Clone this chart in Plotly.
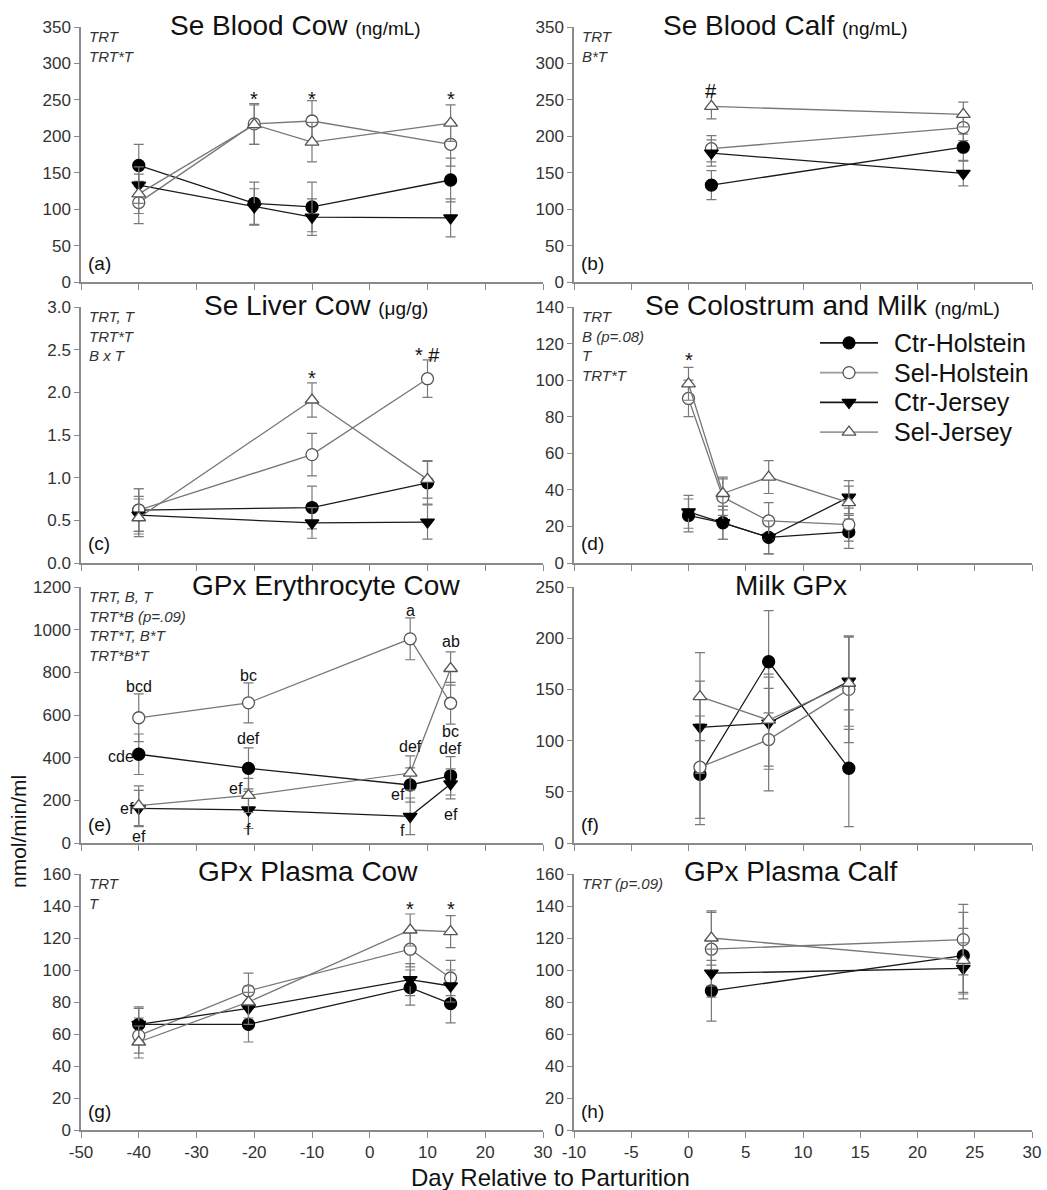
import plotly.graph_objects as go

W, H = 1047, 1190


def px(x):
    return x / W


def py(y):
    return 1 - y / H


SERIES = ["Ctr-Holstein", "Sel-Holstein", "Ctr-Jersey", "Sel-Jersey"]

# ---------------- data ----------------
# (a) Se Blood Cow (ng/mL)
a_day = [-40, -20, -10, 14]
a_ctr_hol = [160, 108, 103, 140]
a_sel_hol = [109, 217, 221, 189]
a_ctr_jer = [133, 103, 89, 88]
a_sel_jer = [121, 216, 192, 218]
a_ctr_hol_se = [29, 29, 34, 30]
a_sel_hol_se = [29, 28, 28, 30]
a_ctr_jer_se = [25, 25, 25, 26]
a_sel_jer_se = [27, 27, 27, 25]

# (b) Se Blood Calf (ng/mL)
b_day = [2, 24]
b_ctr_hol = [133, 185]
b_sel_hol = [183, 212]
b_ctr_jer = [177, 149]
b_sel_jer = [241, 230]
b_ctr_hol_se = [20, 18]
b_sel_hol_se = [18, 18]
b_ctr_jer_se = [18, 17]
b_sel_jer_se = [17, 17]

# (c) Se Liver Cow (ug/g)
c_day = [-40, -10, 10]
c_ctr_hol = [0.62, 0.65, 0.94]
c_sel_hol = [0.62, 1.27, 2.16]
c_ctr_jer = [0.56, 0.47, 0.48]
c_sel_jer = [0.53, 1.91, 0.98]
c_ctr_hol_se = [0.25, 0.25, 0.25]
c_sel_hol_se = [0.25, 0.25, 0.22]
c_ctr_jer_se = [0.22, 0.18, 0.20]
c_sel_jer_se = [0.22, 0.20, 0.22]

# (d) Se Colostrum and Milk (ng/mL)
d_day = [0, 3, 7, 14]
d_ctr_hol = [26, 22, 14, 17]
d_sel_hol = [90, 36, 23, 21]
d_ctr_jer = [28, 22, 14, 36]
d_sel_jer = [98, 38, 47, 33]
d_ctr_hol_se = [9, 9, 9, 9]
d_sel_hol_se = [10, 10, 10, 9]
d_ctr_jer_se = [9, 9, 9, 9]
d_sel_jer_se = [9, 9, 9, 9]

# (e) GPx Erythrocyte Cow (nmol/min/ml)
e_day = [-40, -21, 7, 14]
e_ctr_hol = [416, 350, 272, 315]
e_sel_hol = [587, 657, 957, 655]
e_ctr_jer = [162, 155, 125, 277]
e_sel_jer = [175, 223, 328, 818]
e_ctr_hol_se = [95, 96, 80, 90]
e_sel_hol_se = [112, 94, 98, 98]
e_ctr_jer_se = [85, 87, 86, 70]
e_sel_jer_se = [93, 80, 80, 78]

# (f) Milk GPx
f_day = [1, 7, 14]
f_ctr_hol = [67, 177, 73]
f_sel_hol = [74, 101, 150]
f_ctr_jer = [113, 117, 158]
f_sel_jer = [143, 120, 156]
f_ctr_hol_se = [49, 50, 57]
f_sel_hol_se = [50, 50, 52]
f_ctr_jer_se = [45, 45, 44]
f_sel_jer_se = [43, 45, 45]

# (g) GPx Plasma Cow
g_day = [-40, -21, 7, 14]
g_ctr_hol = [66, 66, 89, 79]
g_sel_hol = [59, 87, 113, 95]
g_ctr_jer = [66, 76, 94, 90]
g_sel_jer = [55, 80, 125, 124]
g_ctr_hol_se = [11, 11, 11, 12]
g_sel_hol_se = [11, 11, 11, 11]
g_ctr_jer_se = [10, 10, 10, 10]
g_sel_jer_se = [10, 10, 10, 10]

# (h) GPx Plasma Calf
h_day = [2, 24]
h_ctr_hol = [87, 109]
h_sel_hol = [113, 119]
h_ctr_jer = [98, 101]
h_sel_jer = [120, 106]
h_ctr_hol_se = [19, 27]
h_sel_hol_se = [23, 22]
h_ctr_jer_se = [15, 16]
h_sel_jer_se = [17, 20]

# tick sets
left_day_ticks = [-50, -40, -30, -20, -10, 0, 10, 20, 30]
right_day_ticks = [-10, -5, 0, 5, 10, 15, 20, 25, 30]

# significance marks: (text, day, value)
a_marks = [("*", -20, 256), ("*", -10, 256), ("*", 14, 256)]
b_marks = [("#", 2, 268)]
c_marks = [("*", -10, 2.22), ("* #", 10, 2.49)]
d_marks = [("*", 0, 113)]
g_marks = [("*", 7, 140.5), ("*", 14, 140.5)]
# letters in (e): (text, day, value, side)
e_letters = [
    ("bcd", -40, 735, "c"), ("cde", -40, 405, "l"), ("ef", -40, 164, "l"), ("ef", -40, 31, "c"),
    ("bc", -21, 787, "c"), ("def", -21, 491, "c"), ("ef", -21, 257, "l"), ("f", -21, 65, "c"),
    ("a", 7, 1091, "c"), ("def", 7, 452, "c"), ("ef", 7, 226, "l"), ("f", 7, 59, "l"),
    ("ab", 14, 943, "c"), ("bc", 14, 522, "c"), ("def", 14, 444, "c"), ("ef", 14, 132, "c"),
]

# ---------------- figure ----------------
FONT = "Liberation Sans, Arial, sans-serif"
AX = "#8a8a8a"

styles = {
    "Ctr-Holstein": dict(symbol="circle", color="black", lc="#1a1a1a", mlc="black", leg="#1a1a1a"),
    "Sel-Holstein": dict(symbol="circle", color="white", lc="#777777", mlc="#555555", leg="#9a9a9a"),
    "Ctr-Jersey": dict(symbol="triangle-down", color="black", lc="#1a1a1a", mlc="black", leg="#1a1a1a"),
    "Sel-Jersey": dict(symbol="triangle-up", color="white", lc="#777777", mlc="#555555", leg="#9a9a9a"),
}

# pixel geometry of panels: (left, right), (top, bottom)
colx = [(81, 543), (574, 1032)]
rowy = [(27, 282), (307, 563), (587, 843), (874, 1130)]

panels = [
    dict(key="a", day=a_day, vals=[a_ctr_hol, a_sel_hol, a_ctr_jer, a_sel_jer],
         errs=[a_ctr_hol_se, a_sel_hol_se, a_ctr_jer_se, a_sel_jer_se],
         yr=[0, 350], dt=50, fmt="", title="Se Blood Cow", unit="(ng/mL)",
         tc=295, stats=["TRT", "TRT*T"], marks=a_marks),
    dict(key="b", day=b_day, vals=[b_ctr_hol, b_sel_hol, b_ctr_jer, b_sel_jer],
         errs=[b_ctr_hol_se, b_sel_hol_se, b_ctr_jer_se, b_sel_jer_se],
         yr=[0, 350], dt=50, fmt="", title="Se Blood Calf", unit="(ng/mL)",
         tc=785, stats=["TRT", "B*T"], marks=b_marks),
    dict(key="c", day=c_day, vals=[c_ctr_hol, c_sel_hol, c_ctr_jer, c_sel_jer],
         errs=[c_ctr_hol_se, c_sel_hol_se, c_ctr_jer_se, c_sel_jer_se],
         yr=[0, 3], dt=0.5, fmt=".1f", title="Se Liver Cow", unit="(μg/g)",
         tc=316, stats=["TRT, T", "TRT*T", "B x T"], marks=c_marks),
    dict(key="d", day=d_day, vals=[d_ctr_hol, d_sel_hol, d_ctr_jer, d_sel_jer],
         errs=[d_ctr_hol_se, d_sel_hol_se, d_ctr_jer_se, d_sel_jer_se],
         yr=[0, 140], dt=20, fmt="", title="Se Colostrum and Milk", unit="(ng/mL)",
         tc=822, stats=["TRT", "B (p=.08)", "T", "TRT*T"], marks=d_marks),
    dict(key="e", day=e_day, vals=[e_ctr_hol, e_sel_hol, e_ctr_jer, e_sel_jer],
         errs=[e_ctr_hol_se, e_sel_hol_se, e_ctr_jer_se, e_sel_jer_se],
         yr=[0, 1200], dt=200, fmt="", title="GPx Erythrocyte Cow", unit="",
         tc=326, stats=["TRT, B, T", "TRT*B (p=.09)", "TRT*T, B*T", "TRT*B*T"], marks=[]),
    dict(key="f", day=f_day, vals=[f_ctr_hol, f_sel_hol, f_ctr_jer, f_sel_jer],
         errs=[f_ctr_hol_se, f_sel_hol_se, f_ctr_jer_se, f_sel_jer_se],
         yr=[0, 250], dt=50, fmt="", title="Milk GPx", unit="",
         tc=791, stats=[], marks=[]),
    dict(key="g", day=g_day, vals=[g_ctr_hol, g_sel_hol, g_ctr_jer, g_sel_jer],
         errs=[g_ctr_hol_se, g_sel_hol_se, g_ctr_jer_se, g_sel_jer_se],
         yr=[0, 160], dt=20, fmt="", title="GPx Plasma Cow", unit="",
         tc=308, stats=["TRT", "T"], marks=g_marks),
    dict(key="h", day=h_day, vals=[h_ctr_hol, h_sel_hol, h_ctr_jer, h_sel_jer],
         errs=[h_ctr_hol_se, h_sel_hol_se, h_ctr_jer_se, h_sel_jer_se],
         yr=[0, 160], dt=20, fmt="", title="GPx Plasma Calf", unit="",
         tc=790, stats=["TRT (p=.09)"], marks=[]),
]

fig = go.Figure()
annotations = []
layout_axes = {}

for i, p in enumerate(panels):
    n = i + 1
    col = i % 2
    row = i // 2
    xl, xr = colx[col]
    yt, yb = rowy[row]
    xname = "xaxis" if n == 1 else f"xaxis{n}"
    yname = "yaxis" if n == 1 else f"yaxis{n}"
    xref = "x" if n == 1 else f"x{n}"
    yref = "y" if n == 1 else f"y{n}"

    ticks = left_day_ticks if col == 0 else right_day_ticks
    layout_axes[xname] = dict(
        domain=[px(xl), px(xr)], anchor=yref, range=[ticks[0], ticks[-1]],
        tickvals=ticks, ticktext=[str(t) for t in ticks],
        showticklabels=(row == 3), ticks="outside", ticklen=6, tickwidth=1.2,
        tickcolor=AX, showline=True, linecolor=AX, linewidth=1.5,
        showgrid=False, zeroline=False, automargin=False, fixedrange=True,
        tickfont=dict(family=FONT, size=17, color="#333"),
    )
    nt = int(round(p["yr"][1] / p["dt"]))
    yt_vals = [p["dt"] * k for k in range(nt + 1)]
    yt_text = [format(v, p["fmt"]) if p["fmt"] else str(int(round(v))) for v in yt_vals]
    layout_axes[yname] = dict(
        domain=[py(yb), py(yt)], anchor=xref, range=p["yr"],
        tickvals=yt_vals, ticktext=yt_text,
        ticks="outside", ticklen=5, tickwidth=1.2, tickcolor=AX,
        showline=True, linecolor=AX, linewidth=1.5, showgrid=False, zeroline=False,
        automargin=False, fixedrange=True,
        tickfont=dict(family=FONT, size=17, color="#333"),
    )

    for s, name in enumerate(SERIES):
        st = styles[name]
        fig.add_trace(go.Scatter(
            x=p["day"], y=p["vals"][s], xaxis=xref, yaxis=yref,
            mode="lines+markers", name=name, showlegend=False,
            line=dict(color=st["lc"], width=1.3),
            marker=dict(symbol=st["symbol"], size=12, color=st["color"],
                        line=dict(color=st["mlc"], width=1.3)),
            error_y=dict(type="data", array=p["errs"][s], visible=True,
                         color="#7a7a7a", thickness=1.2, width=5),
        ))

    # title
    ttext = p["title"]
    if p["unit"]:
        ttext += " <span style='font-size:19px'>" + p["unit"] + "</span>"
    annotations.append(dict(
        text=ttext, x=px(p["tc"]), y=py(yt - 2), xref="paper", yref="paper",
        xanchor="center", yanchor="middle", showarrow=False,
        font=dict(family=FONT, size=28, color="#111"),
    ))
    # stats
    if p["stats"]:
        annotations.append(dict(
            text="<br>".join("<i>" + t + "</i>" for t in p["stats"]),
            x=px(xl + 6), y=py(yt - 1), xref="paper", yref="paper",
            xanchor="left", yanchor="top", align="left", showarrow=False,
            font=dict(family=FONT, size=15, color="#333"),
        ))
    # panel letter
    annotations.append(dict(
        text="(" + p["key"] + ")", x=px(xl + 5), y=py(yb - 19), xref="paper", yref="paper",
        xanchor="left", yanchor="middle", showarrow=False,
        font=dict(family=FONT, size=19, color="#111"),
    ))
    for txt, dx, val in p["marks"]:
        annotations.append(dict(
            text=txt, x=dx, y=val, xref=xref, yref=yref, showarrow=False,
            xanchor="center", yanchor="middle",
            yshift=-4, font=dict(family=FONT, size=20, color="#111"),
        ))
    if p["key"] == "e":
        for txt, dx, val, side in e_letters:
            annotations.append(dict(
                text=txt, x=dx, y=val, xref=xref, yref=yref, showarrow=False,
                xanchor="right" if side == "l" else "center", yanchor="middle",
                xshift=-3 if side == "l" else 0,
                font=dict(family=FONT, size=16, color="#111"),
            ))

# ---- legend (drawn in panel d, on a small hidden helper axis) ----
layout_axes["xaxis9"] = dict(domain=[px(820), px(878)], range=[0, 1], visible=False,
                             anchor="y9", fixedrange=True)
layout_axes["yaxis9"] = dict(domain=[py(447), py(328)], range=[len(SERIES) - 0.5, -0.5],
                             visible=False, anchor="x9", fixedrange=True)
for k, name in enumerate(SERIES):
    st = styles[name]
    fig.add_trace(go.Scatter(
        x=[0, 1], y=[k, k], xaxis="x9", yaxis="y9", mode="lines", showlegend=False,
        line=dict(color=st["leg"], width=1.6), hoverinfo="skip",
    ))
    fig.add_trace(go.Scatter(
        x=[0.5], y=[k], xaxis="x9", yaxis="y9", mode="markers", showlegend=False,
        marker=dict(symbol=st["symbol"], size=12, color=st["color"],
                    line=dict(color=st["mlc"], width=1.3)),
        hoverinfo="skip",
    ))
    annotations.append(dict(
        text=name, x=1, y=k, xref="x9", yref="y9", xanchor="left", yanchor="middle",
        xshift=14, showarrow=False, font=dict(family=FONT, size=25, color="#111"),
    ))

# axis titles
annotations.append(dict(
    text="nmol/min/ml", x=px(18), y=py(832), xref="paper", yref="paper",
    xanchor="center", yanchor="middle",
    textangle=-90, showarrow=False, font=dict(family=FONT, size=21, color="#111"),
))
annotations.append(dict(
    text="Day Relative to Parturition", x=px(550), y=py(1177), xref="paper", yref="paper",
    xanchor="center", yanchor="middle",
    showarrow=False, font=dict(family=FONT, size=24, color="#111"),
))

fig.update_layout(
    width=W, height=H, margin=dict(l=0, r=0, t=0, b=0, autoexpand=False),
    paper_bgcolor="white", plot_bgcolor="white",
    annotations=annotations, showlegend=False, hovermode=False,
    **layout_axes,
)

fig.write_html(
    "out.html",
    config={"responsive": False, "displayModeBar": False},
    post_script="document.body.style.margin='0px';document.body.style.overflow='hidden';",
)
